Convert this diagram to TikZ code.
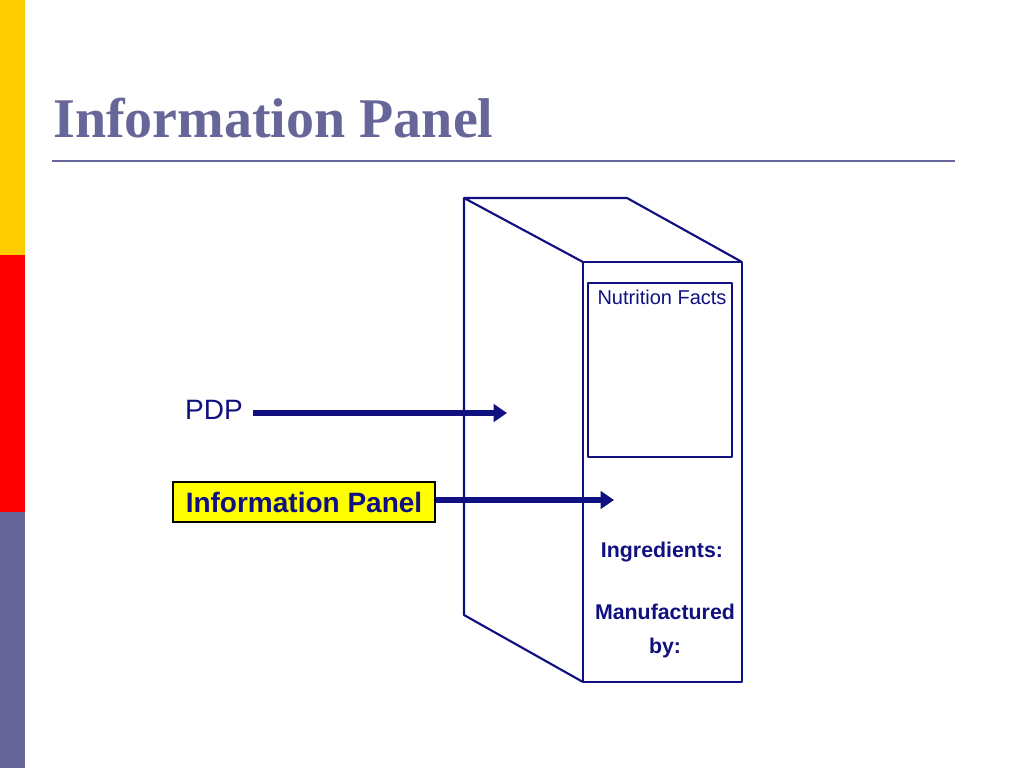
\documentclass[tikz,border=0pt]{standalone}
\usepackage{fontspec}
\setmainfont{Liberation Serif}
\setsansfont{Liberation Sans}
\usepackage{tikz}
\usetikzlibrary{arrows.meta,positioning}
\definecolor{slate}{HTML}{666699}
\definecolor{barYellow}{HTML}{FFCC00}
\definecolor{barRed}{HTML}{FF0000}
\definecolor{navy}{HTML}{101080}
\definecolor{labelYellow}{HTML}{FFFF00}
\tikzset{
  face/.style={draw=navy,line width=1.6pt,line join=round},
  pointer/.style={draw=navy,line width=3.8pt,-{Triangle[length=10pt,width=13pt]}},
  packtext/.style={text=navy,font=\sffamily\bfseries\fontsize{16}{25}\selectfont,align=center,inner sep=0pt}
}

\begin{document}
\begin{tikzpicture}[x=0.75pt,y=-0.75pt]
    \useasboundingbox (0,0) rectangle (1024,768);
    % side bar
    \fill[barYellow] (0,0) rectangle (25,255);
    \fill[barRed] (0,255) rectangle (25,512);
    \fill[slate] (0,512) rectangle (25,768);
    % title
    \node[anchor=base west,inner sep=0pt,text=slate,font=\bfseries\fontsize{42}{46}\selectfont] (title) at (53,137) {Information Panel};
    \draw[slate,line width=1.5pt] (52,161) -- (955,161);
    % the package
    \draw[face] (583,262) -- (464,198) -- (627,198) -- (742,262);
    \draw[face] (464,198) -- (464,615) -- (583,682);
    \draw[face] (583,262) rectangle (742,682);
    \draw[face,line width=1.2pt] (588,283) rectangle (732,457);
    \node[text=navy,font=\sffamily\fontsize{15}{17}\selectfont,inner sep=0pt] (facts) at (662,297) {Nutrition Facts};
    \node[packtext] (ingr) at (662,552) {Ingredients:};
    \node[packtext] (maker) at (665,631) {Manufactured\\by:};
    % labels and arrows
    \node[text=navy,font=\sffamily\fontsize{21}{24}\selectfont,inner sep=0pt] (pdp) at (214,410) {PDP};
    \coordinate (pdptip) at (507,413);
    \draw[pointer] (pdp.east) ++(10,3) -- (pdptip);
    \node[draw=black,line width=1.2pt,fill=labelYellow,text=navy,minimum width=262*0.75pt,minimum height=40*0.75pt,font=\sffamily\bfseries\fontsize{21}{24}\selectfont] (info) at (304,502) {Information Panel};
    \coordinate (infotip) at (614,500);
    \draw[pointer] (info.east |- infotip) -- (infotip);
\end{tikzpicture}
\end{document}
